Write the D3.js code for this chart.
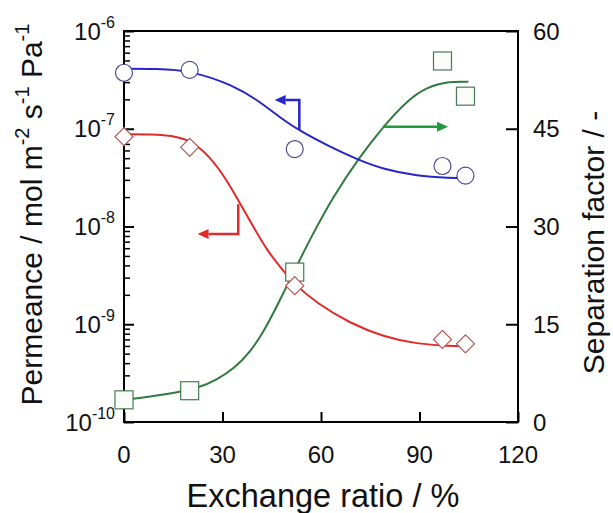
<!DOCTYPE html>
<html>
<head>
<meta charset="utf-8">
<script src="https://cdn.jsdelivr.net/npm/d3@7"></script>
<style>
  body { margin: 0; background: #fff; }
  svg { display: block; font-family: "Liberation Sans", Arial, sans-serif; }
</style>
</head>
<body>
<script>
const width = 613, height = 513;

// measured points
const ratio = [0, 20, 52, 97, 104];
const permA = [3.74e-7, 4.0e-7, 6.2e-8, 4.16e-8, 3.31e-8];     // circles
const permB = [8.3e-8, 6.45e-8, 2.48e-9, 7.0e-10, 6.3e-10];    // diamonds
const sepFactor = [3.4, 4.8, 23.0, 55.4, 50.0];                // squares

// fitted curves
const fitAx = [0, 10, 20, 33.3, 41.4, 48.5, 53.6, 61.7, 70.9, 79, 89.2, 99.3, 104.9];
const fitAy = [4.1e-7, 4.1e-7, 3.95e-7, 2.8e-7, 1.89e-7, 1.23e-7, 9.5e-8, 6.8e-8, 4.87e-8, 3.85e-8, 3.29e-8, 3.13e-8, 3.12e-8];
const fitBx = [0, 13, 20.1, 26.2, 31.3, 35.3, 39.4, 43.5, 47.5, 51.6, 58.7, 68.9, 79, 89.2, 99.3, 104];
const fitBy = [8.77e-8, 8.77e-8, 7.8e-8, 5.18e-8, 2.99e-8, 1.73e-8, 9.96e-9, 5.75e-9, 3.88e-9, 2.62e-9, 1.64e-9, 1.02e-9, 7.46e-10, 6.28e-10, 5.98e-10, 5.97e-10];
const fitSx = [0, 13, 23.2, 28, 33.8, 38.5, 42.5, 46.5, 51.6, 56.6, 63.7, 71.8, 78.9, 86, 92.1, 99.3, 104.9];
const fitSy = [3.4, 4.2, 5.3, 6.4, 8.3, 10.8, 13.8, 17.7, 22.9, 28.0, 34.6, 40.7, 45.3, 49.2, 51.4, 52.3, 52.2];

const xTicks = [0, 30, 60, 90, 120];
const yDecades = [-6, -7, -8, -9, -10];
const y2Ticks = [0, 15, 30, 45, 60];

const margin = {left: 124, right: 95, top: 31, bottom: 91};
const x0 = margin.left, x1 = width - margin.right;
const y0 = margin.top, y1 = height - margin.bottom;

const x = d3.scaleLinear().domain([0, 120]).range([x0, x1]);
const y = d3.scaleLog().domain([1e-10, 1e-6]).range([y1, y0]);
const y2 = d3.scaleLinear().domain([0, 60]).range([y1, y0]);

const svg = d3.select("body").append("svg")
    .attr("width", width)
    .attr("height", height);

// minor ticks on log axis
let minor = [];
yDecades.slice(0, -1).forEach(e => {
  for (let k = 2; k <= 9; k++) minor.push(k * Math.pow(10, e - 1));
});

svg.append("g")
    .attr("transform", `translate(${x0},0)`)
    .call(d3.axisLeft(y).tickValues(minor).tickSize(-6).tickFormat(""))
    .call(g => g.select(".domain").remove())
    .call(g => g.selectAll("line").attr("stroke-width", 1.5));

svg.append("g")
    .attr("transform", `translate(${x0},0)`)
    .call(d3.axisLeft(y).tickValues(yDecades.map(e => Math.pow(10, e))).tickSize(-10).tickFormat(""))
    .call(g => g.select(".domain").remove())
    .call(g => g.selectAll("line").attr("stroke-width", 2));

svg.append("g")
    .attr("transform", `translate(${x1},0)`)
    .call(d3.axisRight(y2).tickValues(y2Ticks).tickSize(-12).tickFormat(""))
    .call(g => g.select(".domain").remove())
    .call(g => g.selectAll("line").attr("stroke-width", 2));

svg.append("g")
    .attr("transform", `translate(0,${y1})`)
    .call(d3.axisBottom(x).tickValues(xTicks).tickSize(-10).tickFormat(""))
    .call(g => g.select(".domain").remove())
    .call(g => g.selectAll("line").attr("stroke-width", 2));

svg.append("rect")
    .attr("x", x0).attr("y", y0)
    .attr("width", x1 - x0).attr("height", y1 - y0)
    .attr("fill", "none")
    .attr("stroke", "#000")
    .attr("stroke-width", 2);

// tick labels
const yLab = svg.append("g").selectAll("text")
  .data(yDecades)
  .join("text")
    .attr("x", 115)
    .attr("y", d => y(Math.pow(10, d)) + 8.5)
    .attr("text-anchor", "end")
    .attr("font-size", 24)
    .attr("fill", "#111");
yLab.append("tspan").text("10");
yLab.append("tspan").attr("font-size", 16).attr("dy", -12).text(d => "-" + Math.abs(d));

svg.append("g").selectAll("text")
  .data(xTicks)
  .join("text")
    .attr("x", d => x(d))
    .attr("y", 463)
    .attr("text-anchor", "middle")
    .attr("font-size", 24)
    .attr("fill", "#111")
    .text(d => d);

svg.append("g").selectAll("text")
  .data(y2Ticks)
  .join("text")
    .attr("x", 533)
    .attr("y", d => y2(d) + 8.5)
    .attr("font-size", 24)
    .attr("fill", "#111")
    .text(d => d);

// axis titles
svg.append("text")
    .attr("x", 323)
    .attr("y", 507)
    .attr("text-anchor", "middle")
    .attr("font-size", 32.5)
    .attr("fill", "#111")
    .text("Exchange ratio / %");

const yt = svg.append("text")
    .attr("transform", `translate(42,${(y0 + y1) / 2 - 12}) rotate(-90)`)
    .attr("text-anchor", "middle")
    .attr("font-size", 30)
    .attr("fill", "#111");
yt.append("tspan").text("Permeance / mol m");
yt.append("tspan").attr("font-size", 20).attr("dy", -13).text("-2");
yt.append("tspan").attr("dy", 13).text(" s");
yt.append("tspan").attr("font-size", 20).attr("dy", -13).text("-1");
yt.append("tspan").attr("dy", 13).text(" Pa");
yt.append("tspan").attr("font-size", 20).attr("dy", -13).text("-1");

svg.append("text")
    .attr("transform", `translate(604,${(y0 + y1) / 2 + 16}) rotate(-90)`)
    .attr("text-anchor", "middle")
    .attr("font-size", 30)
    .attr("fill", "#111")
    .text("Separation factor / -");

// fitted lines
const lineA = d3.line().x((d, i) => x(fitAx[i])).y(d => y(d)).curve(d3.curveBasis);
const lineS = d3.line().x((d, i) => x(fitSx[i])).y(d => y2(d)).curve(d3.curveBasis);
const lineB = d3.line().x((d, i) => x(fitBx[i])).y(d => y(d)).curve(d3.curveBasis);

svg.append("path").attr("d", lineS(fitSy)).attr("fill", "none").attr("stroke", "#2f7a3e").attr("stroke-width", 2);
svg.append("path").attr("d", lineA(fitAy)).attr("fill", "none").attr("stroke", "#2626c8").attr("stroke-width", 2);
svg.append("path").attr("d", lineB(fitBy)).attr("fill", "none").attr("stroke", "#e22a2a").attr("stroke-width", 2);

// arrows
function arrow(pts, color) {
  const p = pts.map(d => [x(d[0]), d[2] ? y2(d[1]) : y(d[1])]);
  const n = p.length;
  const [ax, ay] = p[n - 1], [bx, by] = p[n - 2];
  const ang = Math.atan2(ay - by, ax - bx);
  const L = 11, W = 5;
  const back = [ax - L * Math.cos(ang), ay - L * Math.sin(ang)];
  const shaft = p.slice(0, -1).concat([back]);
  svg.append("path")
      .attr("d", d3.line()(shaft))
      .attr("fill", "none").attr("stroke", color).attr("stroke-width", 2.5);
  svg.append("path")
      .attr("d", d3.line()([
        [ax, ay],
        [back[0] - W * Math.sin(ang), back[1] + W * Math.cos(ang)],
        [back[0] + W * Math.sin(ang), back[1] - W * Math.cos(ang)]
      ]) + "Z")
      .attr("fill", color);
}
arrow([[53.4, 9.7e-8], [53.4, 1.97e-7], [45.9, 1.97e-7]], "#2626c8");
arrow([[34.8, 1.69e-8], [34.8, 8.4e-9], [22.4, 8.4e-9]], "#e22a2a");
arrow([[78.8, 45.3, true], [98.7, 45.3, true]], "#1f9a3c");

// markers
svg.append("g").selectAll("rect")
  .data(sepFactor)
  .join("rect")
    .attr("x", (d, i) => x(ratio[i]) - 9)
    .attr("y", d => y2(d) - 9)
    .attr("width", 18).attr("height", 18)
    .attr("fill", "#fbfdfb")
    .attr("stroke", "#477a52")
    .attr("stroke-width", 1.2);

svg.append("g").selectAll("circle")
  .data(permA)
  .join("circle")
    .attr("cx", (d, i) => x(ratio[i]))
    .attr("cy", d => y(d))
    .attr("r", 8.5)
    .attr("fill", "#fff")
    .attr("stroke", "#4a4a8e")
    .attr("stroke-width", 1.2);

const diamond = d3.symbol().type(d3.symbolSquare).size(162);
svg.append("g").selectAll("path")
  .data(permB)
  .join("path")
    .attr("transform", (d, i) => `translate(${x(ratio[i])},${y(d)}) rotate(45)`)
    .attr("d", diamond)
    .attr("fill", "#fff")
    .attr("stroke", "#b35c5c")
    .attr("stroke-width", 1.2);
</script>
</body>
</html>
